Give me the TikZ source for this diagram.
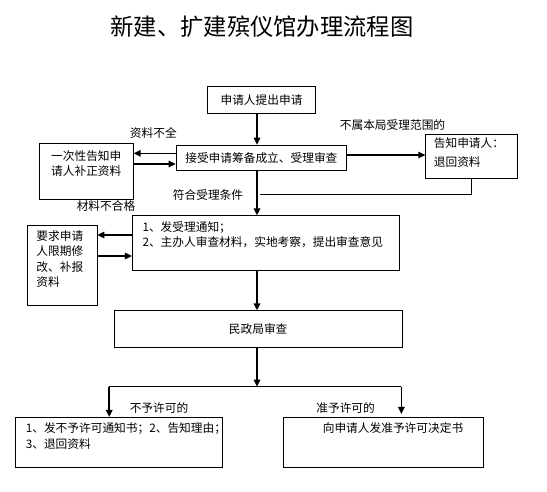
\documentclass[tikz,border=0pt]{standalone}
\usepackage{fontspec}
\usepackage{tikz}
\usetikzlibrary{arrows.meta}
\newfontfamily\cjk{Noto Sans CJK SC}

\begin{document}
\begin{tikzpicture}[x=1pt, y=-1pt, >={Triangle[length=7pt,width=6.5pt]},
  every node/.style={font=\cjk\fontsize{11.7}{15.5}\selectfont},
  box/.style={draw, line width=0.7pt, inner sep=0pt},
  txt/.style={inner sep=0pt, align=left},
  flow/.style={->, line width=1.6pt},
  back/.style={line width=0.7pt}]
  \useasboundingbox (0,0) rectangle (547,491);
  % Title
  \node[font=\cjk\fontsize{23.3}{28}\selectfont] (title) at (262,26.7) {新建、扩建殡仪馆办理流程图};
  % Main column
  \coordinate (spine) at (257,0);
  \node[box, minimum width=108.4pt, minimum height=26.6pt] (apply) at (261.5,100) {申请人提出申请};
  \node[box, minimum width=170.7pt, minimum height=25.7pt] (accept) at (261.35,157.85) {接受申请筹备成立、受理审查};
  \node[box, minimum width=267.3pt, minimum height=55pt] (review) at (265.95,243.2) {};
  \node[txt, anchor=north west] (reviewtxt) at ([shift={(10.4pt,-6pt)}]review.north west)
    {1、发受理通知；\\2、主办人审查材料，实地考察，提出审查意见};
  \node[box, minimum width=287.7pt, minimum height=36.6pt] (civil) at (258.15,329) {民政局审查};
  % Side boxes
  \node[box, minimum width=94pt, minimum height=56pt] (supply) at (86.3,171.3) {};
  \node[txt, align=center, anchor=north] (supplytxt) at ([yshift=-8pt]supply.north)
    {一次性告知申\\[-1.2pt]请人补正资料};
  \node[box, minimum width=92pt, minimum height=44.3pt] (refuse) at (471.7,156.15) {};
  \node[txt, anchor=north west] (refusetxt) at ([shift={(8.3pt,-4pt)}]refuse.north west)
    {告知申请人：\\[3pt]退回资料};
  \node[box, minimum width=70pt, minimum height=80.3pt] (amend) at (62,265.15) {};
  \node[txt, anchor=north west] (amendtxt) at ([shift={(9.6pt,-5.7pt)}]amend.north west)
    {要求申请\\人限期修\\改、补报\\资料};
  % Result boxes
  \node[box, minimum width=206.3pt, minimum height=50.4pt] (deny) at (118.85,442.5) {};
  \node[txt, anchor=north west] (denytxt) at ([shift={(10.3pt,-5.7pt)}]deny.north west)
    {1、发不予许可通知书；2、告知理由；\\3、退回资料};
  \node[box, minimum width=199.6pt, minimum height=50.4pt] (grant) at (383.6,442.5) {};
  \node[txt, anchor=north] (granttxt) at ([shift={(9.4pt,-5.7pt)}]grant.north) {向申请人发准予许可决定书};
  % Labels
  \node[txt] (lblmiss) at (153.3,133.3) {资料不全};
  \node[txt] (lblout) at (392.5,125) {不属本局受理范围的};
  \node[txt] (lblok) at (208,195) {符合受理条件};
  \node[txt] (lblbad) at (106,206) {材料不合格};
  \node[txt] (lblno) at (159,408.3) {不予许可的};
  \node[txt] (lblyes) at (345.6,408.3) {准予许可的};
  % Main flow
  \draw[flow] (apply.south -| spine) -- (accept.north -| spine);
  \draw[flow] (accept.south -| spine) -- (review.north -| spine);
  \draw[flow] (review.south -| spine) -- (civil.north -| spine);
  \coordinate (split) at (257,386.7);
  \draw[flow] (civil.south -| spine) -- (split);
  \coordinate (nobranch) at (109.2,386.7);
  \coordinate (yesbranch) at (401.4,386.7);
  \draw[line width=1pt] (nobranch) -- (yesbranch);
  \draw[flow] (nobranch) -- (deny.north -| nobranch);
  \draw[flow] (yesbranch) -- ([yshift=3pt]grant.north -| yesbranch);
  % Incomplete material
  \draw[flow] (accept.west |- 0,153.3) -- (supply.east |- 0,153.3);
  \draw[flow] (supply.east |- 0,164) -- (accept.west |- 0,164);
  % Not within scope
  \draw[->, line width=1.2pt] (accept.east |- 0,155) -- (refuse.west |- 0,155);
  \draw[back] (refuse.south -| 471.7,0) |- (259.5,194);
  % Material not qualified
  \draw[flow] (review.west |- 0,235) -- (amend.east |- 0,235);
  \draw[flow] (amend.east |- 0,256) -- (review.west |- 0,256);
\end{tikzpicture}
\end{document}
